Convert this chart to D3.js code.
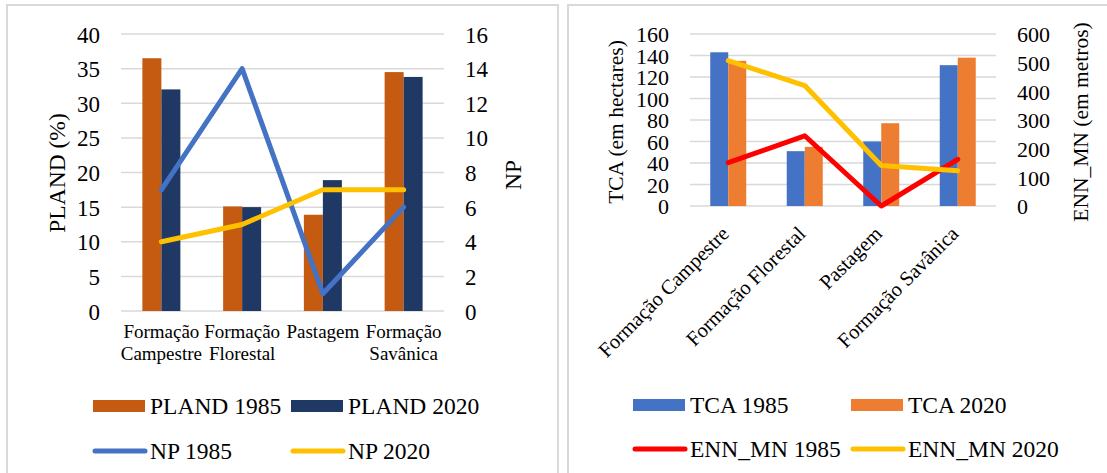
<!DOCTYPE html>
<html>
<head>
<meta charset="utf-8">
<script src="https://cdn.jsdelivr.net/npm/d3@7"></script>
<style>
  body { margin: 0; background: #fff; }
  svg { display: block; }
  text { font-family: "Liberation Serif", "Times New Roman", serif; fill: #000; }
</style>
</head>
<body>
<svg id="chart" width="1107" height="473"></svg>
<script>
// Land-cover classes
const categories = ["Formação Campestre", "Formação Florestal", "Pastagem", "Formação Savânica"];
const categoryLines = [["Formação", "Campestre"], ["Formação", "Florestal"], ["Pastagem"], ["Formação", "Savânica"]];

// Left panel: PLAND (%) bars, NP lines
const pland1985 = [36.5, 15.1, 13.9, 34.5];
const pland2020 = [32.0, 15.0, 18.9, 33.8];
const np1985 = [7, 14, 1, 6];
const np2020 = [4, 5, 7, 7];

// Right panel: TCA (ha) bars, ENN_MN (m) lines
const tca1985 = [143, 51, 60, 131];
const tca2020 = [135, 55, 77, 138];
const enn1985 = [151, 245, 0, 163];
const enn2020 = [507, 420, 141, 123];

// Tick values
const plandTicks = [0, 5, 10, 15, 20, 25, 30, 35, 40];
const npTicks = [0, 2, 4, 6, 8, 10, 12, 14, 16];
const tcaTicks = [0, 20, 40, 60, 80, 100, 120, 140, 160];
const ennTicks = [0, 100, 200, 300, 400, 500, 600];

const svg = d3.select("#chart");
const GRID = "#d9d9d9";
const LINE_W = 5;

// panel frames
svg.append("rect").attr("x", 7).attr("y", 5).attr("width", 551).attr("height", 490)
  .attr("fill", "none").attr("stroke", GRID).attr("stroke-width", 2);
svg.append("rect").attr("x", 568).attr("y", 5).attr("width", 560).attr("height", 490)
  .attr("fill", "none").attr("stroke", GRID).attr("stroke-width", 2);

function drawPanel(cfg) {
  const g = svg.append("g");
  const x = d3.scaleBand().domain(categories).range(cfg.xRange);
  const yL = d3.scaleLinear().domain([0, cfg.leftTicks[cfg.leftTicks.length - 1]]).range(cfg.yRange);
  const yR = d3.scaleLinear().domain([0, cfg.rightTicks[cfg.rightTicks.length - 1]]).range(cfg.yRange);
  const bw = x.bandwidth();
  const inner = d3.scaleBand().domain([0, 1]).range([bw / 2 - cfg.barW, bw / 2 + cfg.barW]);

  // gridlines
  g.selectAll(".grid").data(cfg.leftTicks).join("line")
    .attr("x1", cfg.xRange[0]).attr("x2", cfg.xRange[1])
    .attr("y1", d => yL(d)).attr("y2", d => yL(d))
    .attr("stroke", GRID).attr("stroke-width", 1.5);

  // left axis labels
  const la = d3.axisLeft(yL).tickValues(cfg.leftTicks).tickSize(0).tickPadding(0);
  const lag = g.append("g").attr("transform", `translate(${cfg.leftLabelX},0)`).call(la);
  lag.select(".domain").remove();
  lag.selectAll("text").attr("x", 0).attr("dy", "0.35em")
    .style("font-family", "Liberation Serif").style("font-size", cfg.tickSize + "px").attr("fill", "#000");

  // right axis labels
  const ra = d3.axisRight(yR).tickValues(cfg.rightTicks).tickSize(0).tickPadding(0);
  const rag = g.append("g").attr("transform", `translate(${cfg.rightLabelX},0)`).call(ra);
  rag.select(".domain").remove();
  rag.selectAll("text").attr("x", 0).attr("dy", "0.35em")
    .style("font-family", "Liberation Serif").style("font-size", cfg.tickSize + "px").attr("fill", "#000");

  // axis titles
  g.append("text").attr("transform", `translate(${cfg.leftTitle.x},${cfg.leftTitle.y}) rotate(-90)`)
    .attr("text-anchor", "middle").attr("dy", "0.35em")
    .style("font-size", cfg.titleSize + "px").text(cfg.leftTitle.text);
  g.append("text").attr("transform", `translate(${cfg.rightTitle.x},${cfg.rightTitle.y}) rotate(-90)`)
    .attr("text-anchor", "middle").attr("dy", "0.35em")
    .style("font-size", cfg.titleSize + "px").text(cfg.rightTitle.text);

  // bars
  cfg.bars.forEach((s, si) => {
    g.append("g").selectAll("rect").data(s.values).join("rect")
      .attr("x", (d, i) => x(categories[i]) + inner(si))
      .attr("width", inner.bandwidth())
      .attr("y", d => yL(d))
      .attr("height", d => yL(0) - yL(d))
      .attr("fill", s.color);
  });

  // lines
  const line = d3.line().x((d, i) => x(categories[i]) + bw / 2).y(d => yR(d));
  cfg.lines.forEach(s => {
    g.append("path").datum(s.values).attr("d", line)
      .attr("fill", "none").attr("stroke", s.color).attr("stroke-width", LINE_W)
      .attr("stroke-linejoin", "round").attr("stroke-linecap", "round");
  });

  // category labels
  cfg.drawCategories(g, x, bw);

  // legend
  const items = cfg.bars.map(s => ({ ...s, kind: "bar" })).concat(cfg.lines.map(s => ({ ...s, kind: "line" })));
  items.forEach((s, i) => {
    const col = i % 2, row = Math.floor(i / 2);
    const lx = cfg.legend.x[col], ly = cfg.legend.y[row];
    if (s.kind === "bar") {
      g.append("rect").attr("x", lx).attr("y", ly - 6).attr("width", 52).attr("height", 12).attr("fill", s.color);
    } else {
      g.append("line").attr("x1", lx + 2).attr("x2", lx + 52).attr("y1", ly).attr("y2", ly)
        .attr("stroke", s.color).attr("stroke-width", LINE_W).attr("stroke-linecap", "round");
    }
    g.append("text").attr("x", lx + 57).attr("y", ly).attr("dy", "0.35em")
      .style("font-size", cfg.legendSize + "px").text(s.name);
  });
}

// Left panel
drawPanel({
  xRange: [121, 444], yRange: [311, 34], barW: 19,
  leftTicks: plandTicks, rightTicks: npTicks,
  leftLabelX: 100, rightLabelX: 465, tickSize: 23, titleSize: 23.5, legendSize: 23.5,
  leftTitle: { x: 57, y: 173, text: "PLAND (%)" },
  rightTitle: { x: 513, y: 175, text: "NP" },
  bars: [{ name: "PLAND 1985", values: pland1985, color: "#C55A11" },
         { name: "PLAND 2020", values: pland2020, color: "#203864" }],
  lines: [{ name: "NP 1985", values: np1985, color: "#4472C4" },
          { name: "NP 2020", values: np2020, color: "#FFC000" }],
  legend: { x: [93, 291], y: [406, 451] },
  drawCategories: (g, x, bw) => {
    categories.forEach((c, i) => {
      const t = g.append("text").attr("text-anchor", "middle").style("font-size", "19px");
      categoryLines[i].forEach((ln, k) => {
        t.append("tspan").attr("x", x(c) + bw / 2).attr("y", 338 + k * 22).text(ln);
      });
    });
  }
});

// Right panel
drawPanel({
  xRange: [690, 996], yRange: [206, 34], barW: 18,
  leftTicks: tcaTicks, rightTicks: ennTicks,
  leftLabelX: 669, rightLabelX: 1017, tickSize: 22, titleSize: 21.5, legendSize: 23.5,
  leftTitle: { x: 615, y: 122, text: "TCA (em hectares)" },
  rightTitle: { x: 1080, y: 122, text: "ENN_MN (em metros)" },
  bars: [{ name: "TCA 1985", values: tca1985, color: "#4472C4" },
         { name: "TCA 2020", values: tca2020, color: "#ED7D31" }],
  lines: [{ name: "ENN_MN 1985", values: enn1985, color: "#FF0000" },
          { name: "ENN_MN 2020", values: enn2020, color: "#FFC000" }],
  legend: { x: [633, 851], y: [405, 449] },
  drawCategories: (g, x, bw) => {
    categories.forEach(c => {
      g.append("text")
        .attr("transform", `translate(${x(c) + bw / 2 + 2},235) rotate(-45)`)
        .attr("text-anchor", "end").style("font-size", "20.5px").text(c);
    });
  }
});
</script>
</body>
</html>
